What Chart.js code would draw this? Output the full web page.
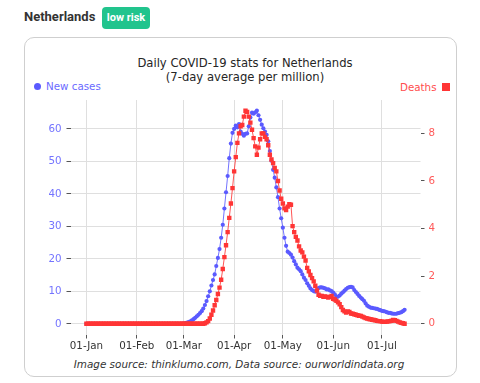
<!DOCTYPE html>
<html><head><meta charset="utf-8">
<script src="https://cdn.jsdelivr.net/npm/chart.js@4.4.0/dist/chart.umd.min.js"></script>
<style>
html,body{margin:0;padding:0;background:#fff;width:480px;height:383px;overflow:hidden;position:relative;}
#hdr{position:absolute;left:24px;top:9px;font:bold 13px Roboto,"Liberation Sans",sans-serif;color:#333;line-height:16px;}
#badge{position:absolute;left:102px;top:7px;width:48px;height:22px;background:#21c48d;border-radius:4px;color:#fff;font:bold 11px Roboto,"Liberation Sans",sans-serif;text-align:center;line-height:22px;}
#card{position:absolute;left:24px;top:37px;width:431px;height:338px;border:1.5px solid #cfcfcf;border-radius:10px;}
.t{position:absolute;font-family:"DejaVu Sans",sans-serif;white-space:nowrap;}
#t1{left:0;width:490px;top:56px;text-align:center;font-size:11.6px;line-height:14px;color:#262626;}
#t2{left:0;width:490px;top:69.5px;text-align:center;font-size:11.6px;line-height:14px;color:#262626;}
#lgL{left:46px;top:79px;font-size:10.3px;line-height:14px;color:#6a6aff;}
#dotL{position:absolute;left:34px;top:82.5px;width:7px;height:7px;border-radius:50%;background:#5a5aff;}
#lgR{left:400px;top:80px;font-size:10.3px;line-height:14px;color:#ff4d4d;}
#sqR{position:absolute;left:442px;top:83px;width:7.5px;height:7.5px;background:#ff3535;}
#foot{left:0;width:478px;top:357px;text-align:center;font-size:10.4px;line-height:14px;font-style:italic;color:#333;}
#wrap{position:absolute;left:0;top:0;width:480px;height:383px;}
</style></head>
<body>
<div id="hdr">Netherlands</div>
<div id="badge">low risk</div>
<div id="card"></div>
<div class="t" id="t1">Daily COVID-19 stats for Netherlands</div>
<div class="t" id="t2">(7-day average per million)</div>
<div id="dotL"></div><div class="t" id="lgL">New cases</div>
<div class="t" id="lgR">Deaths</div><div id="sqR"></div>
<div class="t" id="foot">Image source: thinklumo.com, Data source: ourworldindata.org</div>
<div id="wrap"><canvas id="c" width="480" height="383"></canvas></div>
<script>
// Days counted from 01-Jan-2020 (one value per day, 01-Jan .. 15-Jul)
const startLabel = '2020-01-01';
const monthTicks = [0, 31, 60, 91, 121, 152, 182];
const monthLabels = ['01-Jan', '01-Feb', '01-Mar', '01-Apr', '01-May', '01-Jun', '01-Jul'];
const casesTicks = [0, 10, 20, 30, 40, 50, 60];
const deathsTicks = [0, 2, 4, 6, 8];

// New cases, 7-day average per million
const newCases = [
  0,0,0,0,0,0,0,0,0,0, 0,0,0,0,0,0,0,0,0,0,
  0,0,0,0,0,0,0,0,0,0, 0,0,0,0,0,0,0,0,0,0,
  0,0,0,0,0,0,0,0,0,0, 0,0,0,0,0,0,0,0,
  0.0, 0.05, 0.1, 0.2, 0.35, 0.5, 0.8, 1.1, 1.45, 1.85,
  2.3, 2.8, 3.3, 3.9, 4.7, 5.8, 7.0, 8.5, 10.0, 11.8,
  13.5, 15.2, 17.8, 20.3, 23.0, 26.5, 30.5, 35.5, 40.5, 45.5,
  51.0, 55.5, 58.8, 60.0, 61.0, 60.5, 61.5, 59.2, 58.5, 57.9,
  58.5, 58.6, 60.8, 63.5, 65.0, 64.7, 65.1, 65.6, 64.2, 62.8,
  61.3, 60.2, 59.2, 58.2, 56.2, 53.2, 50.2, 47.4, 45.0, 42.0,
  39.0, 35.5, 32.5, 29.6, 26.5, 24.0, 22.2, 21.8, 21.3, 20.4,
  19.3, 18.3, 17.3, 16.8, 16.2, 15.2, 14.2, 13.5, 12.5, 11.7,
  10.9, 10.4, 10.1, 9.9, 10.3, 11.0, 11.2, 11.2, 11.1, 10.9,
  10.6, 10.6, 10.3, 10.1, 9.6, 9.1, 8.3, 8.4, 8.7, 9.3,
  9.7, 10.2, 10.7, 11.1, 11.3, 11.4, 11.2, 10.4, 9.8, 9.2,
  8.6, 8.1, 7.6, 7.1, 6.3, 5.6, 5.3, 5.0, 4.9, 4.8,
  4.7, 4.6, 4.4, 4.2, 4.0, 3.9, 3.8, 3.6, 3.4, 3.4,
  3.2, 3.1, 3.1, 3.1, 3.3, 3.4, 3.6, 3.9, 4.3
];

// Deaths, 7-day average per million
const deaths = [
  0,0,0,0,0,0,0,0,0,0, 0,0,0,0,0,0,0,0,0,0,
  0,0,0,0,0,0,0,0,0,0, 0,0,0,0,0,0,0,0,0,0,
  0,0,0,0,0,0,0,0,0,0, 0,0,0,0,0,0,0,0,0,0,
  0,0,0,0,0,0,0,0,0,0, 0,0,0,
  0.02, 0.06, 0.11, 0.22, 0.38, 0.56, 0.78, 1.0, 1.25, 1.52,
  1.85, 2.3, 2.8, 3.3, 3.85, 4.45, 5.05, 5.7, 6.4, 7.0,
  7.6, 8.0, 8.3, 8.35, 8.7, 8.95, 8.9, 8.7, 8.45, 8.15,
  7.8, 7.45, 7.1, 7.4, 7.75, 8.0, 8.0, 7.85, 7.75, 7.5,
  7.1, 6.9, 6.75, 6.55, 6.4, 6.0, 5.6, 5.25, 5.05, 4.85,
  4.78, 4.92, 5.02, 5.0, 4.1, 3.85, 3.65, 3.5, 3.25, 3.08,
  3.0, 2.82, 2.66, 2.35, 2.2, 2.05, 1.92, 1.78, 1.6, 1.4,
  1.22, 1.17, 1.17, 1.13, 1.15, 1.13, 1.1, 1.13, 1.17, 1.05,
  1.02, 0.96, 0.9, 0.82, 0.7, 0.58, 0.52, 0.47, 0.52, 0.5,
  0.43, 0.42, 0.4, 0.38, 0.36, 0.34, 0.33, 0.3, 0.27, 0.24,
  0.22, 0.2, 0.19, 0.17, 0.16, 0.15, 0.12, 0.11, 0.11, 0.09,
  0.08, 0.08, 0.09, 0.1, 0.11, 0.13, 0.16, 0.15, 0.12, 0.09,
  0.06, 0.04, 0.02, 0.0
];

const casesPts = newCases.map((v, i) => ({x: i, y: v}));
const deathsPts = deaths.map((v, i) => ({x: i, y: v}));

const tickFont = {family: 'DejaVu Sans', size: 10.3};
const gridCol = '#dfdfdf';
const tickCol = '#555';

new Chart(document.getElementById('c'), {
  type: 'line',
  data: {
    datasets: [
      {label: 'Deaths', data: deathsPts, yAxisID: 'yR', order: 0,
       borderColor: 'rgba(255,55,55,0.85)', backgroundColor: '#ff3535',
       borderWidth: 1, pointStyle: 'rect', pointRadius: 3.1, pointBorderWidth: 0, tension: 0},
      {label: 'New cases', data: casesPts, yAxisID: 'yL', order: 1,
       borderColor: 'rgba(90,90,255,0.85)', backgroundColor: '#5a5aff',
       borderWidth: 1, pointStyle: 'circle', pointRadius: 2.1, pointBorderWidth: 0, tension: 0}
    ]
  },
  options: {
    responsive: false,
    animation: false,
    layout: {padding: {top: 100, bottom: 18.5, left: 30, right: 20}},
    plugins: {legend: {display: false}, tooltip: {enabled: false}, title: {display: false}},
    scales: {
      x: {
        type: 'linear', position: 'bottom', min: -9.8, max: 205.8,
        afterBuildTicks: (s) => { s.ticks = monthTicks.map(v => ({value: v})); },
        afterFit: (s) => { s.height = 30; },
        ticks: {font: tickFont, color: '#333', padding: 2, maxRotation: 0, autoSkip: false,
                callback: (v) => { const k = monthTicks.indexOf(v); return k >= 0 ? monthLabels[k] : ''; }},
        grid: {color: gridCol, tickColor: tickCol, tickLength: 4, lineWidth: 1},
        border: {display: false}
      },
      yL: {
        type: 'linear', position: 'left', min: -3.28, max: 68.9,
        afterBuildTicks: (s) => { s.ticks = casesTicks.map(v => ({value: v})); },
        afterFit: (s) => { s.width = 40.5; },
        ticks: {font: tickFont, color: '#7474ff', padding: 5},
        grid: {color: gridCol, tickColor: tickCol, tickLength: 4, lineWidth: 1},
        border: {display: false}
      },
      yR: {
        type: 'linear', position: 'right', min: -0.45, max: 9.4,
        afterBuildTicks: (s) => { s.ticks = deathsTicks.map(v => ({value: v})); },
        afterFit: (s) => { s.width = 39.5; },
        ticks: {font: tickFont, color: '#ff5a5a', padding: 4},
        grid: {drawOnChartArea: false, color: gridCol, tickColor: tickCol, tickLength: 4, lineWidth: 1},
        border: {display: false}
      }
    }
  }
});
</script>
</body></html>
